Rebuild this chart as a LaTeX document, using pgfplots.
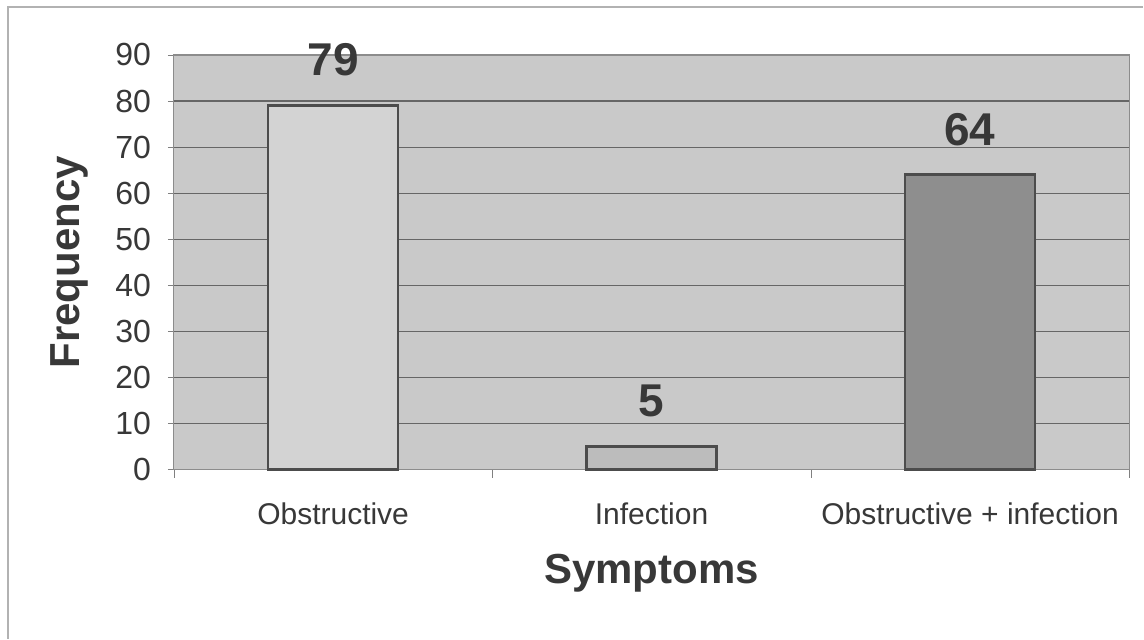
\documentclass[border=0pt]{standalone}
\usepackage{pgfplots}
\pgfplotsset{compat=1.18}
\usepackage{fontspec}
\setmainfont{Liberation Sans}
\definecolor{plotbg}{HTML}{C9C9C9}
\definecolor{barA}{HTML}{D3D3D3}
\definecolor{barB}{HTML}{BCBCBC}
\definecolor{barC}{HTML}{8E8E8E}
\definecolor{edgec}{HTML}{4C4C4C}
\definecolor{txt}{HTML}{383838}
\begin{document}
\begin{tikzpicture}[x=1pt,y=1pt]
\path[fill=white] (0,0) rectangle (572,319.5);
\draw[color=black!30, line width=0.8pt] (4,0) -- (4,316) -- (572,316);
\begin{axis}[
  at={(87pt,84.5pt)}, anchor=south west,
  scale only axis, width=478pt, height=207.5pt,
  xmin=-0.5, xmax=2.5, ymin=0, ymax=90,
  ytick={0,10,...,90},
  xtick={0,1,2},
  xticklabels={Obstructive, Infection, Obstructive + infection},
  minor xtick={-0.5,0.5,1.5,2.5},
  major x tick style={draw=none},
  minor x tick style={draw=black!50},
  minor tick length=4pt,
  major tick length=3pt,
  tick align=outside,
  xtick pos=bottom, ytick pos=left,
  ymajorgrids, grid style={draw=black!60, line width=0.6pt},
  axis background/.style={fill=plotbg},
  axis line style={draw=black!45, line width=0.6pt},
  y tick style={draw=black!50},
  /pgf/number format/assume math mode=true,
  tick label style={text=txt},
  yticklabel style={font=\fontsize{16}{19}\selectfont, xshift=-5pt},
  xticklabel style={font=\fontsize{15}{18}\selectfont, anchor=north, yshift=-10pt},
  ylabel={\textbf{Frequency}},
  xlabel={\textbf{Symptoms}},
  label style={font=\fontsize{21}{25}\selectfont, text=txt},
  ylabel style={at={(axis description cs:-0.109,0.5)}, anchor=center},
  xlabel style={at={(axis description cs:0.5,-0.25)}, anchor=center},
  bar width=65pt,
  nodes near coords,
  every node near coord/.append style={font=\fontsize{23}{27}\selectfont\bfseries, text=txt, anchor=south, inner sep=0pt, yshift=14pt},
  clip=false,
]
\addplot[ybar, fill=barA, draw=edgec, line width=1.3pt] coordinates {(0,79)};
\addplot[ybar, fill=barB, draw=edgec, line width=1.3pt] coordinates {(1,5)};
\addplot[ybar, fill=barC, draw=edgec, line width=1.3pt] coordinates {(2,64)};
\end{axis}
\end{tikzpicture}
\end{document}
